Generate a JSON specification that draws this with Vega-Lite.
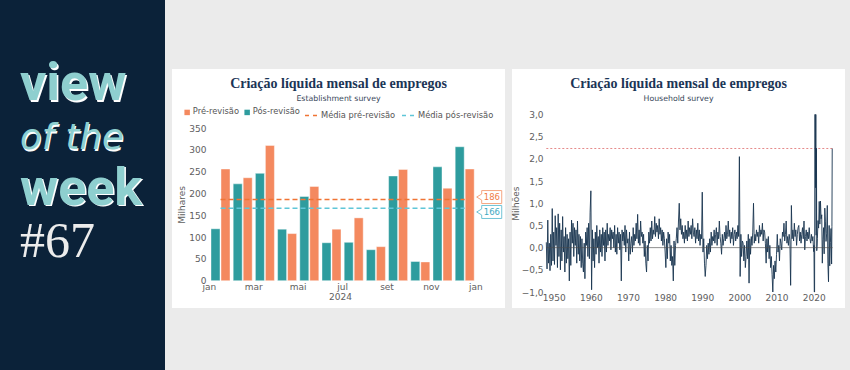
{
"$schema": "https://vega.github.io/schema/vega-lite/v6.json",
"background": "#ebebeb",
"padding": {"left": 0, "top": 0, "right": 5, "bottom": -7},
"spacing": 7,
"bounds": "flush",
"center": true,
"config": {
  "view": {"stroke": null},
  "axis": {"labelFont": "DejaVu Sans", "labelFontSize": 9, "labelColor": "#5e5e5e", "titleFont": "DejaVu Sans", "titleFontSize": 9, "titleFontWeight": "normal", "titleColor": "#5e5e5e", "grid": false, "ticks": false, "domain": false, "labelOverlap": false},
  "legend": {"labelFont": "DejaVu Sans", "labelFontSize": 8.3, "labelColor": "#555555"},
  "title": {"font": "Liberation Serif", "fontSize": 14, "fontWeight": "bold", "color": "#1b3556", "anchor": "middle", "frame": "group", "subtitleFont": "DejaVu Sans", "subtitleFontSize": 7.8, "subtitleColor": "#39485a", "subtitlePadding": 4, "offset": -34}
},
"datasets": {
  "medias": [
    {"serie": "Média pré-revisão", "v": 186, "a": "jan", "b": "dez"},
    {"serie": "Média pós-revisão", "v": 166, "a": "jan", "b": "dez"}
  ]
},
"hconcat": [
  {
    "width": 165, "height": 377,
    "view": {"fill": "#0b2239", "stroke": null},
    "data": {"values": [{"w": "view", "s": "b"}, {"w": "of the", "s": "i"}, {"w": "week", "s": "b"}, {"w": "#67", "s": "n"}]},
    "encoding": {"y": {"field": "w", "type": "nominal", "scale": {"type": "point", "domain": ["view", "of the", "week", "#67"], "range": [100, 257], "padding": 0}, "axis": null}},
    "layer": [
      {"transform": [{"filter": "datum.s == 'b'"}], "mark": {"type": "text", "font": "Roboto", "fontWeight": "bold", "fontSize": 52, "align": "left", "baseline": "alphabetic", "dx": -61, "dy": 1.5, "fill": "#ffffff"}, "encoding": {"text": {"field": "w"}}},
      {"transform": [{"filter": "datum.s == 'b'"}], "mark": {"type": "text", "font": "Roboto", "fontWeight": "bold", "fontSize": 52, "align": "left", "baseline": "alphabetic", "dx": -62.5, "fill": "#8ecfcf"}, "encoding": {"text": {"field": "w"}}},
      {"transform": [{"filter": "datum.s == 'i'"}], "mark": {"type": "text", "font": "DejaVu Sans", "fontStyle": "italic", "fontSize": 35.5, "align": "left", "baseline": "alphabetic", "dx": -61.5, "dy": -1.8, "fill": "#ffffff"}, "encoding": {"text": {"field": "w"}}},
      {"transform": [{"filter": "datum.s == 'i'"}], "mark": {"type": "text", "font": "DejaVu Sans", "fontStyle": "italic", "fontSize": 35.5, "align": "left", "baseline": "alphabetic", "dx": -62.5, "dy": -3, "fill": "#8ecfcf"}, "encoding": {"text": {"field": "w"}}},
      {"transform": [{"filter": "datum.s == 'n'"}], "mark": {"type": "text", "font": "Liberation Serif", "fontSize": 50, "align": "left", "baseline": "alphabetic", "dx": -62.5, "fill": "#ececec"}, "encoding": {"text": {"field": "w"}}}
    ]
  },
  {
    "width": 333, "height": 239,
    "view": {"fill": "#ffffff", "stroke": null},
    "title": {"text": "Criação líquida mensal de empregos", "subtitle": "Establishment survey"},
    "layer": [
      {
        "data": {"values": [
          {"m": "jan", "s": "Pré-revisão", "v": 256}, {"m": "jan", "s": "Pós-revisão", "v": 119},
          {"m": "fev", "s": "Pré-revisão", "v": 236}, {"m": "fev", "s": "Pós-revisão", "v": 222},
          {"m": "mar", "s": "Pré-revisão", "v": 310}, {"m": "mar", "s": "Pós-revisão", "v": 246},
          {"m": "abr", "s": "Pré-revisão", "v": 108}, {"m": "abr", "s": "Pós-revisão", "v": 118},
          {"m": "mai", "s": "Pré-revisão", "v": 216}, {"m": "mai", "s": "Pós-revisão", "v": 193},
          {"m": "jun", "s": "Pré-revisão", "v": 118}, {"m": "jun", "s": "Pós-revisão", "v": 87},
          {"m": "jul", "s": "Pré-revisão", "v": 144}, {"m": "jul", "s": "Pós-revisão", "v": 88},
          {"m": "ago", "s": "Pré-revisão", "v": 78}, {"m": "ago", "s": "Pós-revisão", "v": 71},
          {"m": "set", "s": "Pré-revisão", "v": 255}, {"m": "set", "s": "Pós-revisão", "v": 240},
          {"m": "out", "s": "Pré-revisão", "v": 43}, {"m": "out", "s": "Pós-revisão", "v": 44},
          {"m": "nov", "s": "Pré-revisão", "v": 212}, {"m": "nov", "s": "Pós-revisão", "v": 261},
          {"m": "dez", "s": "Pré-revisão", "v": 256}, {"m": "dez", "s": "Pós-revisão", "v": 307}
        ]},
        "mark": {"type": "bar", "stroke": "#ffffff", "strokeWidth": 0.6, "strokeOpacity": 0.7},
        "encoding": {
          "x": {"field": "m", "type": "ordinal", "scale": {"domain": ["jan", "fev", "mar", "abr", "mai", "jun", "jul", "ago", "set", "out", "nov", "dez", "jan2"], "range": [37.4, 326], "paddingInner": 0.144, "paddingOuter": 0.072},
                "axis": {"values": ["jan", "mar", "mai", "jul", "set", "nov", "jan2"], "labelExpr": "datum.value == 'jan2' ? 'jan' : datum.value", "labelOffset": -11.1, "labelAngle": 0, "labelOverlap": false, "offset": -27.3, "labelPadding": 2, "title": "2024", "titleX": 168, "titleAlign": "center", "titlePadding": 1}},
          "xOffset": {"field": "s", "scale": {"domain": ["Pós-revisão", "Pré-revisão"], "paddingInner": 0.1}},
          "y": {"field": "v", "type": "quantitative", "scale": {"domain": [0, 350], "range": [211.7, 59], "nice": false},
                "axis": {"values": [0, 50, 100, 150, 200, 250, 300, 350], "tickCount": 20, "labelOverlap": false, "labelFlush": false, "offset": -36, "labelPadding": 2, "title": "Milhares", "titlePadding": 2}},
          "color": {"field": "s", "type": "nominal", "scale": {"domain": ["Pré-revisão", "Pós-revisão"], "range": ["#f4895f", "#2e9c9e"]},
                    "legend": {"orient": "none", "legendX": 183, "legendY": 108, "direction": "horizontal", "title": null, "symbolType": "square", "symbolSize": 30, "symbolStrokeWidth": 0, "columnPadding": 3, "labelOffset": 1.5}}
        }
      },
      {
        "data": {"name": "medias"},
        "mark": {"type": "rule", "strokeDash": [5, 3], "strokeWidth": 1.5},
        "encoding": {
          "x": {"field": "a", "type": "ordinal"},
          "x2": {"field": "b"},
          "y": {"field": "v", "type": "quantitative"},
          "stroke": {"field": "serie", "type": "nominal", "scale": {"domain": ["Média pré-revisão", "Média pós-revisão"], "range": ["#f07434", "#5fc6d8"]},
                     "legend": {"orient": "none", "legendX": 304, "legendY": 108, "direction": "horizontal", "title": null, "symbolType": "stroke", "symbolSize": 169, "symbolDash": [4, 4], "symbolStrokeWidth": 1.5, "columnPadding": 3, "labelOffset": 2}}
        }
      },
      {
        "data": {"name": "medias"},
        "transform": [{"filter": "datum.v == 186"}],
        "mark": {"type": "point", "shape": "M-0.785,0 L-0.4,-0.23 L-0.4,-0.5 L1.14,-0.5 L1.14,0.5 L-0.4,0.5 L-0.4,0.23 Z", "size": 676, "fill": "#ffffff", "fillOpacity": 1, "stroke": "#f5a682", "strokeWidth": 1, "opacity": 1, "yOffset": -2.5},
        "encoding": {"x": {"datum": "jan2", "type": "ordinal"}, "y": {"field": "v", "type": "quantitative"}}
      },
      {
        "data": {"name": "medias"},
        "transform": [{"filter": "datum.v == 186"}],
        "mark": {"type": "text", "font": "DejaVu Sans", "fontSize": 8.5, "fill": "#ef7b48", "dx": 5, "dy": -2.5, "align": "center", "baseline": "middle"},
        "encoding": {"x": {"datum": "jan2", "type": "ordinal"}, "y": {"field": "v", "type": "quantitative"}, "text": {"field": "v", "type": "quantitative", "format": "d"}}
      },
      {
        "data": {"name": "medias"},
        "transform": [{"filter": "datum.v == 166"}],
        "mark": {"type": "point", "shape": "M-0.785,0 L-0.4,-0.23 L-0.4,-0.5 L1.14,-0.5 L1.14,0.5 L-0.4,0.5 L-0.4,0.23 Z", "size": 676, "fill": "#ffffff", "fillOpacity": 1, "stroke": "#72c4d6", "strokeWidth": 1, "opacity": 1, "yOffset": 3.7},
        "encoding": {"x": {"datum": "jan2", "type": "ordinal"}, "y": {"field": "v", "type": "quantitative"}}
      },
      {
        "data": {"name": "medias"},
        "transform": [{"filter": "datum.v == 166"}],
        "mark": {"type": "text", "font": "DejaVu Sans", "fontSize": 8.5, "fill": "#3ea9c2", "dx": 5, "dy": 3.7, "align": "center", "baseline": "middle"},
        "encoding": {"x": {"datum": "jan2", "type": "ordinal"}, "y": {"field": "v", "type": "quantitative"}, "text": {"field": "v", "type": "quantitative", "format": "d"}}
      }
    ]
  },
  {
    "width": 333, "height": 239,
    "view": {"fill": "#ffffff", "stroke": null},
    "title": {"text": "Criação líquida mensal de empregos", "subtitle": "Household survey"},
    "layer": [
      {
        "data": {"values": [{"v": 2.234}]},
        "mark": {"type": "rule", "stroke": "#e58a8a", "strokeDash": [2, 2], "strokeWidth": 1},
        "encoding": {"x": {"datum": 1948}, "x2": {"datum": 2025.1}, "y": {"field": "v", "type": "quantitative"}}
      },
      {
        "data": {"values": [
{"t":1948.0,"v":0.12},{"t":1948.2,"v":-0.48},{"t":1948.4,"v":0.62},{"t":1948.6,"v":-0.35},{"t":1948.8,"v":0.10},
{"t":1949.0,"v":-0.52},{"t":1949.2,"v":0.30},{"t":1949.4,"v":-0.40},{"t":1949.6,"v":0.88},{"t":1949.8,"v":-0.30},
{"t":1950.0,"v":0.35},{"t":1950.2,"v":-0.38},{"t":1950.4,"v":0.72},{"t":1950.6,"v":0.05},{"t":1950.8,"v":0.45},
{"t":1951.0,"v":-0.45},{"t":1951.2,"v":0.76},{"t":1951.4,"v":-0.20},{"t":1951.6,"v":0.55},{"t":1951.8,"v":-0.50},
{"t":1952.0,"v":0.40},{"t":1952.2,"v":-0.30},{"t":1952.4,"v":0.70},{"t":1952.6,"v":-0.10},{"t":1952.8,"v":0.25},
{"t":1953.0,"v":-0.55},{"t":1953.2,"v":0.45},{"t":1953.4,"v":-0.35},{"t":1953.6,"v":0.30},{"t":1953.8,"v":-0.25},
{"t":1954.0,"v":0.20},{"t":1954.2,"v":-0.75},{"t":1954.4,"v":0.35},{"t":1954.6,"v":-0.40},{"t":1954.8,"v":0.62},
{"t":1955.0,"v":0.10},{"t":1955.2,"v":0.55},{"t":1955.4,"v":-0.20},{"t":1955.6,"v":0.45},{"t":1955.8,"v":0.05},
{"t":1956.0,"v":0.40},{"t":1956.2,"v":-0.35},{"t":1956.4,"v":0.60},{"t":1956.6,"v":-0.15},{"t":1956.8,"v":0.30},
{"t":1957.0,"v":-0.30},{"t":1957.2,"v":0.25},{"t":1957.4,"v":-0.45},{"t":1957.6,"v":0.20},{"t":1957.8,"v":-0.35},
{"t":1958.0,"v":-0.55},{"t":1958.2,"v":0.10},{"t":1958.4,"v":-0.70},{"t":1958.6,"v":0.35},{"t":1958.8,"v":0.05},
{"t":1959.0,"v":0.45},{"t":1959.2,"v":-0.20},{"t":1959.4,"v":0.55},{"t":1959.6,"v":-0.25},{"t":1959.8,"v":0.80},
{"t":1960.0,"v":1.28},{"t":1960.2,"v":-0.95},{"t":1960.4,"v":0.40},{"t":1960.6,"v":-0.30},{"t":1960.8,"v":0.20},
{"t":1961.0,"v":-0.45},{"t":1961.2,"v":0.35},{"t":1961.4,"v":-0.15},{"t":1961.6,"v":0.50},{"t":1961.8,"v":0.00},
{"t":1962.0,"v":0.25},{"t":1962.2,"v":-0.35},{"t":1962.4,"v":0.40},{"t":1962.6,"v":-0.10},{"t":1962.8,"v":0.30},
{"t":1963.0,"v":-0.20},{"t":1963.2,"v":0.45},{"t":1963.4,"v":0.05},{"t":1963.6,"v":0.35},{"t":1963.8,"v":-0.30},
{"t":1964.0,"v":0.40},{"t":1964.2,"v":-0.10},{"t":1964.4,"v":0.55},{"t":1964.6,"v":0.05},{"t":1964.8,"v":0.30},
{"t":1965.0,"v":0.15},{"t":1965.2,"v":0.45},{"t":1965.4,"v":-0.05},{"t":1965.6,"v":0.40},{"t":1965.8,"v":0.20},
{"t":1966.0,"v":0.35},{"t":1966.2,"v":0.00},{"t":1966.4,"v":0.50},{"t":1966.6,"v":-0.10},{"t":1966.8,"v":0.30},
{"t":1967.0,"v":-0.15},{"t":1967.2,"v":0.45},{"t":1967.4,"v":0.10},{"t":1967.6,"v":0.35},{"t":1967.8,"v":-0.05},
{"t":1968.0,"v":0.30},{"t":1968.2,"v":-0.75},{"t":1968.4,"v":0.40},{"t":1968.6,"v":0.15},{"t":1968.8,"v":0.35},
{"t":1969.0,"v":0.05},{"t":1969.2,"v":0.50},{"t":1969.4,"v":-0.10},{"t":1969.6,"v":0.40},{"t":1969.8,"v":0.10},
{"t":1970.0,"v":0.20},{"t":1970.2,"v":-0.30},{"t":1970.4,"v":0.35},{"t":1970.6,"v":-0.15},{"t":1970.8,"v":0.10},
{"t":1971.0,"v":0.25},{"t":1971.2,"v":-0.10},{"t":1971.4,"v":0.45},{"t":1971.6,"v":0.05},{"t":1971.8,"v":0.30},
{"t":1972.0,"v":0.15},{"t":1972.2,"v":0.55},{"t":1972.4,"v":0.20},{"t":1972.6,"v":0.75},{"t":1972.8,"v":0.10},
{"t":1973.0,"v":0.40},{"t":1973.2,"v":0.05},{"t":1973.4,"v":0.60},{"t":1973.6,"v":0.25},{"t":1973.8,"v":0.35},
{"t":1974.0,"v":0.10},{"t":1974.2,"v":0.30},{"t":1974.4,"v":-0.20},{"t":1974.6,"v":0.15},{"t":1974.8,"v":-0.35},
{"t":1975.0,"v":-0.55},{"t":1975.2,"v":0.05},{"t":1975.4,"v":-0.30},{"t":1975.6,"v":0.35},{"t":1975.8,"v":0.10},
{"t":1976.0,"v":0.45},{"t":1976.2,"v":0.15},{"t":1976.4,"v":0.60},{"t":1976.6,"v":0.20},{"t":1976.8,"v":0.40},
{"t":1977.0,"v":0.30},{"t":1977.2,"v":0.70},{"t":1977.4,"v":0.25},{"t":1977.6,"v":0.55},{"t":1977.8,"v":0.35},
{"t":1978.0,"v":0.50},{"t":1978.2,"v":0.20},{"t":1978.4,"v":0.65},{"t":1978.6,"v":0.30},{"t":1978.8,"v":0.45},
{"t":1979.0,"v":0.15},{"t":1979.2,"v":0.40},{"t":1979.4,"v":0.05},{"t":1979.6,"v":0.35},{"t":1979.8,"v":0.20},
{"t":1980.0,"v":-0.10},{"t":1980.2,"v":-0.45},{"t":1980.4,"v":0.20},{"t":1980.6,"v":-0.25},{"t":1980.8,"v":0.35},
{"t":1981.0,"v":0.10},{"t":1981.2,"v":0.30},{"t":1981.4,"v":-0.30},{"t":1981.6,"v":0.05},{"t":1981.8,"v":-0.40},
{"t":1982.0,"v":-0.20},{"t":1982.2,"v":-0.75},{"t":1982.4,"v":0.15},{"t":1982.6,"v":-0.40},{"t":1982.8,"v":0.05},
{"t":1983.0,"v":0.20},{"t":1983.2,"v":0.45},{"t":1983.4,"v":0.10},{"t":1983.6,"v":0.60},{"t":1983.8,"v":1.00},
{"t":1984.0,"v":0.40},{"t":1984.2,"v":0.65},{"t":1984.4,"v":0.30},{"t":1984.6,"v":0.50},{"t":1984.8,"v":0.20},
{"t":1985.0,"v":0.35},{"t":1985.2,"v":0.10},{"t":1985.4,"v":0.50},{"t":1985.6,"v":0.20},{"t":1985.8,"v":0.40},
{"t":1986.0,"v":0.15},{"t":1986.2,"v":0.60},{"t":1986.4,"v":0.25},{"t":1986.6,"v":0.45},{"t":1986.8,"v":0.30},
{"t":1987.0,"v":0.50},{"t":1987.2,"v":0.20},{"t":1987.4,"v":0.65},{"t":1987.6,"v":0.35},{"t":1987.8,"v":0.25},
{"t":1988.0,"v":0.45},{"t":1988.2,"v":0.10},{"t":1988.4,"v":0.40},{"t":1988.6,"v":0.20},{"t":1988.8,"v":0.55},
{"t":1989.0,"v":0.15},{"t":1989.2,"v":0.40},{"t":1989.4,"v":0.05},{"t":1989.6,"v":0.30},{"t":1989.8,"v":0.20},
{"t":1990.0,"v":1.25},{"t":1990.2,"v":-0.10},{"t":1990.4,"v":0.20},{"t":1990.6,"v":-0.35},{"t":1990.8,"v":-0.65},
{"t":1991.0,"v":-0.40},{"t":1991.2,"v":0.05},{"t":1991.4,"v":-0.25},{"t":1991.6,"v":0.10},{"t":1991.8,"v":-0.15},
{"t":1992.0,"v":0.20},{"t":1992.2,"v":-0.10},{"t":1992.4,"v":0.35},{"t":1992.6,"v":0.05},{"t":1992.8,"v":0.25},
{"t":1993.0,"v":0.15},{"t":1993.2,"v":0.40},{"t":1993.4,"v":0.10},{"t":1993.6,"v":0.30},{"t":1993.8,"v":0.45},
{"t":1994.0,"v":0.05},{"t":1994.2,"v":0.35},{"t":1994.4,"v":0.20},{"t":1994.6,"v":0.60},{"t":1994.8,"v":0.25},
{"t":1995.0,"v":0.10},{"t":1995.2,"v":-0.15},{"t":1995.4,"v":0.30},{"t":1995.6,"v":0.05},{"t":1995.8,"v":0.20},
{"t":1996.0,"v":0.35},{"t":1996.2,"v":0.15},{"t":1996.4,"v":0.50},{"t":1996.6,"v":0.20},{"t":1996.8,"v":0.30},
{"t":1997.0,"v":0.60},{"t":1997.2,"v":0.25},{"t":1997.4,"v":0.40},{"t":1997.6,"v":0.10},{"t":1997.8,"v":0.35},
{"t":1998.0,"v":0.20},{"t":1998.2,"v":0.45},{"t":1998.4,"v":0.05},{"t":1998.6,"v":0.30},{"t":1998.8,"v":0.40},
{"t":1999.0,"v":0.15},{"t":1999.2,"v":0.35},{"t":1999.4,"v":0.20},{"t":1999.6,"v":0.50},{"t":1999.8,"v":0.25},
{"t":2000.0,"v":2.05},{"t":2000.2,"v":-0.65},{"t":2000.4,"v":0.30},{"t":2000.6,"v":-0.20},{"t":2000.8,"v":0.15},
{"t":2001.0,"v":0.10},{"t":2001.2,"v":-0.30},{"t":2001.4,"v":0.05},{"t":2001.6,"v":-0.45},{"t":2001.8,"v":-0.20},
{"t":2002.0,"v":0.15},{"t":2002.2,"v":-0.25},{"t":2002.4,"v":0.30},{"t":2002.6,"v":-0.80},{"t":2002.8,"v":0.20},
{"t":2003.0,"v":-0.15},{"t":2003.2,"v":0.25},{"t":2003.4,"v":0.05},{"t":2003.6,"v":0.35},{"t":2003.8,"v":1.00},
{"t":2004.0,"v":0.10},{"t":2004.2,"v":0.30},{"t":2004.4,"v":0.15},{"t":2004.6,"v":0.40},{"t":2004.8,"v":0.25},
{"t":2005.0,"v":0.35},{"t":2005.2,"v":0.10},{"t":2005.4,"v":0.50},{"t":2005.6,"v":0.25},{"t":2005.8,"v":0.40},
{"t":2006.0,"v":0.30},{"t":2006.2,"v":0.55},{"t":2006.4,"v":0.15},{"t":2006.6,"v":0.40},{"t":2006.8,"v":0.35},
{"t":2007.0,"v":0.10},{"t":2007.2,"v":-0.35},{"t":2007.4,"v":0.20},{"t":2007.6,"v":-0.10},{"t":2007.8,"v":0.25},
{"t":2008.0,"v":-0.25},{"t":2008.2,"v":0.05},{"t":2008.4,"v":-0.45},{"t":2008.6,"v":-0.20},{"t":2008.8,"v":-0.60},
{"t":2009.0,"v":-1.00},{"t":2009.2,"v":-0.40},{"t":2009.4,"v":-0.70},{"t":2009.6,"v":-0.30},{"t":2009.8,"v":-0.55},
{"t":2010.0,"v":-0.15},{"t":2010.2,"v":0.30},{"t":2010.4,"v":-0.10},{"t":2010.6,"v":0.05},{"t":2010.8,"v":-0.30},
{"t":2011.0,"v":0.20},{"t":2011.2,"v":0.10},{"t":2011.4,"v":-0.05},{"t":2011.6,"v":0.35},{"t":2011.8,"v":0.25},
{"t":2012.0,"v":0.55},{"t":2012.2,"v":0.15},{"t":2012.4,"v":0.30},{"t":2012.6,"v":0.60},{"t":2012.8,"v":0.10},
{"t":2013.0,"v":0.25},{"t":2013.2,"v":0.05},{"t":2013.4,"v":0.30},{"t":2013.6,"v":0.15},{"t":2013.8,"v":-0.85},
{"t":2014.0,"v":0.95},{"t":2014.2,"v":0.20},{"t":2014.4,"v":0.40},{"t":2014.6,"v":0.15},{"t":2014.8,"v":0.55},
{"t":2015.0,"v":0.25},{"t":2015.2,"v":0.40},{"t":2015.4,"v":0.05},{"t":2015.6,"v":0.30},{"t":2015.8,"v":0.45},
{"t":2016.0,"v":0.50},{"t":2016.2,"v":0.15},{"t":2016.4,"v":0.35},{"t":2016.6,"v":0.10},{"t":2016.8,"v":0.30},
{"t":2017.0,"v":0.45},{"t":2017.2,"v":0.20},{"t":2017.4,"v":0.60},{"t":2017.6,"v":-0.05},{"t":2017.8,"v":0.25},
{"t":2018.0,"v":0.40},{"t":2018.2,"v":0.15},{"t":2018.4,"v":0.35},{"t":2018.6,"v":0.20},{"t":2018.8,"v":0.45},
{"t":2019.0,"v":0.20},{"t":2019.2,"v":0.10},{"t":2019.4,"v":0.30},{"t":2019.6,"v":0.15},{"t":2019.8,"v":0.25},
{"t":2020.0,"v":-0.09},{"t":2020.08,"v":0.05},{"t":2020.17,"v":-2.99},{"t":2020.25,"v":-22.37},{"t":2020.33,"v":3.84},{"t":2020.42,"v":4.94},
{"t":2020.5,"v":1.35},{"t":2020.58,"v":3.76},{"t":2020.67,"v":0.28},{"t":2020.75,"v":2.24},{"t":2020.83,"v":-0.07},{"t":2020.92,"v":0.02},
{"t":2021.0,"v":0.20},{"t":2021.17,"v":0.61},{"t":2021.33,"v":0.44},{"t":2021.5,"v":1.04},{"t":2021.67,"v":0.53},{"t":2021.83,"v":1.05},
{"t":2022.0,"v":0.65},{"t":2022.17,"v":0.74},{"t":2022.33,"v":-0.35},{"t":2022.5,"v":0.18},{"t":2022.67,"v":0.45},{"t":2022.83,"v":-0.14},
{"t":2023.0,"v":0.89},{"t":2023.17,"v":0.58},{"t":2023.33,"v":0.14},{"t":2023.5,"v":0.31},{"t":2023.67,"v":0.95},{"t":2023.83,"v":-0.35},
{"t":2024.0,"v":-0.77},{"t":2024.17,"v":0.50},{"t":2024.33,"v":-0.41},{"t":2024.5,"v":0.12},{"t":2024.67,"v":0.43},{"t":2024.83,"v":-0.37},{"t":2024.92,"v":0.48},
{"t":2025.0,"v":2.234}
        ]},
        "mark": {"type": "line", "stroke": "#1a3550", "strokeWidth": 1, "opacity": 0.9},
        "encoding": {
          "x": {"field": "t", "type": "quantitative", "scale": {"domain": [1948, 2025.1], "range": [34.3, 320.6], "zero": false, "nice": false},
                "axis": {"values": [1950, 1960, 1970, 1980, 1990, 2000, 2010, 2020], "tickCount": 20, "format": "d", "labelOverlap": false, "offset": -16, "labelPadding": 1, "title": null}},
          "y": {"field": "v", "type": "quantitative", "scale": {"domain": [-1, 3], "range": [223, 45.5], "nice": false, "clamp": true},
                "axis": {"values": [-1, -0.5, 0, 0.5, 1, 1.5, 2, 2.5, 3], "tickCount": 20, "labelExpr": "replace(format(datum.value, '.1f'), '.', ',')", "labelOverlap": false, "labelFlush": false, "offset": -33, "labelPadding": 2, "title": "Milhões", "titlePadding": 1}}
        }
      },
      {
        "data": {"values": [{"v": 0}]},
        "mark": {"type": "rule", "stroke": "#4a4a4a", "strokeWidth": 0.8, "opacity": 0.8},
        "encoding": {"x": {"datum": 1948}, "x2": {"datum": 2025.1}, "y": {"field": "v", "type": "quantitative"}}
      }
    ]
  }
]
}
